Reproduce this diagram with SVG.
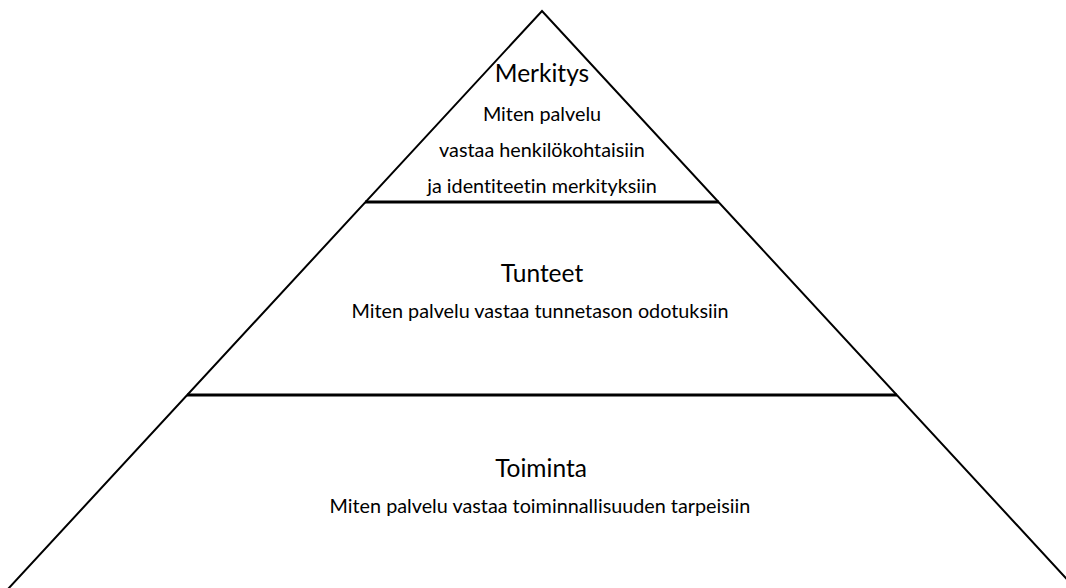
<svg xmlns="http://www.w3.org/2000/svg" width="1066" height="588" viewBox="0 0 1066 588">
  <style>
    .side { fill: none; stroke: #000; stroke-width: 2; stroke-linejoin: miter; }
    .div { stroke: #000; stroke-width: 3; }
    text { font-family: Lato, "Liberation Sans", sans-serif; fill: #000; text-anchor: middle; font-variant-ligatures: none; font-feature-settings: "liga" 0, "clig" 0; }
    .title { font-size: 24.5px; }
    .body { font-size: 19.8px; }
  </style>
  <rect width="1066" height="588" fill="#fff"/>
  <g id="connectors">
    <path class="side" d="M 8 589 L 542 11 L 1076 589"/>
    <line class="div" x1="365" y1="202" x2="719" y2="202"/>
    <line class="div" x1="187" y1="395" x2="897" y2="395"/>
  </g>
  <g id="merkitys">
    <text class="title" x="542" y="82">Merkitys</text>
    <text class="body" x="542" y="121">Miten palvelu</text>
    <text class="body" x="542" y="157">vastaa henkilökohtaisiin</text>
    <text class="body" x="542" y="193">ja identiteetin merkityksiin</text>
  </g>
  <g id="tunteet">
    <text class="title" x="542" y="282">Tunteet</text>
    <text class="body" x="540" y="318">Miten palvelu vastaa tunnetason odotuksiin</text>
  </g>
  <g id="toiminta">
    <text class="title" x="541" y="477">Toiminta</text>
    <text class="body" x="540" y="513">Miten palvelu vastaa toiminnallisuuden tarpeisiin</text>
  </g>
</svg>
